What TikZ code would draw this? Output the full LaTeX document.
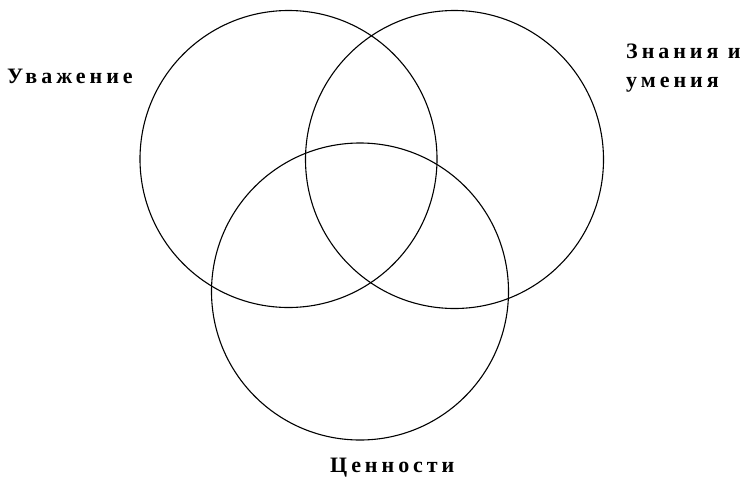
\documentclass[tikz,border=0pt]{standalone}
\usepackage{fontspec}
\newfontfamily\lblfont{Liberation Serif Bold}[LetterSpace=18]
\begin{document}
\begin{tikzpicture}[x=1pt,y=-1pt,
  ring/.style={draw=black,line width=1.1pt},
  lbl/.style={font=\lblfont\fontsize{22}{29}\selectfont,inner sep=0pt,anchor=base west,align=left}]
\useasboundingbox (0,0) rectangle (747,480);
\node[ring,circle,minimum size=297pt,inner sep=0pt] (L) at (288.5,159) {};
\node[ring,circle,minimum size=298pt,inner sep=0pt] (R) at (454.5,159.5) {};
\node[ring,circle,minimum size=297pt,inner sep=0pt] (B) at (360,291.5) {};
\node[lbl] (t1) at (7,83) {Уважение};
\node[lbl,anchor=north west] (t2) at (626,44) {Знания и\\умения};
\node[lbl] (t3) at (330,472) {Ценности};
\end{tikzpicture}
\end{document}
